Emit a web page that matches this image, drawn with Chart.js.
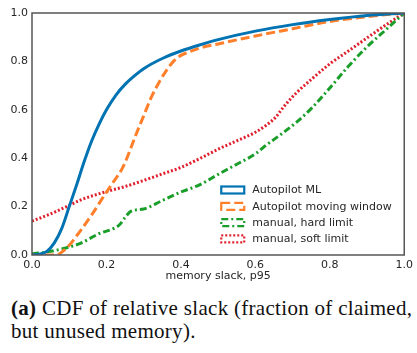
<!DOCTYPE html>
<html>
<head>
<meta charset="utf-8">
<script src="https://cdn.jsdelivr.net/npm/chart.js@4"></script>
<style>
  body { margin: 0; background: #fff; }
  #wrap { position: relative; width: 417px; height: 353px; }
  #slackChart { position: absolute; left: 0; top: 0; }
  .caption {
    position: absolute; left: 11px; top: 297px; width: 410px;
    font-family: 'Liberation Serif', serif; font-size: 21px; line-height: 22.5px;
    letter-spacing: 0.3px; color: #111; white-space: nowrap;
  }
</style>
</head>
<body>
<div id="wrap">
  <canvas id="slackChart" width="417" height="285"></canvas>
  <div class="caption"><b>(a)</b> CDF of relative slack (fraction of claimed,<br>but unused memory).</div>
</div>
<script>
// values (memory slack, p95 -> cumulative fraction)
const seriesNames = ['Autopilot ML', 'Autopilot moving window', 'manual, hard limit', 'manual, soft limit'];

const mlSlack = [0, 0.02, 0.04, 0.06, 0.08, 0.1, 0.12, 0.14, 0.16, 0.18, 0.2, 0.225, 0.25, 0.275, 0.3, 0.35, 0.4, 0.45, 0.5, 0.6, 0.7, 0.8, 0.9, 1.0];
const mlCdf   = [0, 0.003, 0.015, 0.05, 0.11, 0.2, 0.29, 0.385, 0.47, 0.54, 0.6, 0.66, 0.705, 0.74, 0.77, 0.812, 0.843, 0.868, 0.89, 0.925, 0.952, 0.973, 0.99, 1.0];

const windowSlack = [0, 0.065, 0.08, 0.1, 0.13, 0.16, 0.2, 0.22, 0.245, 0.265, 0.28, 0.3, 0.32, 0.34, 0.36, 0.38, 0.4, 0.42, 0.45, 0.5, 0.6, 0.7, 0.8, 0.9, 1.0];
const windowCdf   = [0, 0, 0.012, 0.04, 0.1, 0.165, 0.26, 0.305, 0.365, 0.44, 0.5, 0.575, 0.65, 0.71, 0.76, 0.8, 0.825, 0.838, 0.855, 0.872, 0.905, 0.935, 0.965, 0.985, 1.0];

const hardSlack = [0, 0.05, 0.1, 0.13, 0.18, 0.22, 0.235, 0.25, 0.265, 0.3, 0.35, 0.4, 0.45, 0.5, 0.55, 0.6, 0.63, 0.67, 0.71, 0.75, 0.8, 0.85, 0.9, 0.95, 1.0];
const hardCdf   = [0.005, 0.015, 0.033, 0.048, 0.088, 0.11, 0.125, 0.155, 0.18, 0.19, 0.225, 0.26, 0.29, 0.333, 0.375, 0.418, 0.455, 0.5, 0.548, 0.605, 0.69, 0.78, 0.86, 0.93, 1.0];

const softSlack = [0, 0.05, 0.1, 0.13, 0.2, 0.25, 0.3, 0.35, 0.4, 0.45, 0.5, 0.55, 0.6, 0.63, 0.655, 0.675, 0.69, 0.71, 0.75, 0.8, 0.85, 0.9, 0.95, 1.0];
const softCdf   = [0.14, 0.17, 0.205, 0.227, 0.262, 0.283, 0.308, 0.335, 0.362, 0.398, 0.437, 0.472, 0.507, 0.537, 0.57, 0.61, 0.637, 0.67, 0.725, 0.79, 0.843, 0.897, 0.95, 1.0];

const tickLabels = ['0.0', '0.2', '0.4', '0.6', '0.8', '1.0'];

const colors = ['#0173b2', '#ff7f2a', '#1a9e2a', '#e0202e'];
const dashes = [[], [9, 4], [7, 3, 2, 3], [2, 2]];

function pts(xs, ys) {
  return xs.map((x, i) => ({ x: x, y: ys[i] }));
}

const data = {
  datasets: [
    { label: seriesNames[0], data: pts(mlSlack, mlCdf) },
    { label: seriesNames[1], data: pts(windowSlack, windowCdf) },
    { label: seriesNames[2], data: pts(hardSlack, hardCdf) },
    { label: seriesNames[3], data: pts(softSlack, softCdf) }
  ].map((d, i) => Object.assign(d, {
    borderColor: colors[i],
    backgroundColor: colors[i],
    borderDash: dashes[i],
    borderWidth: 3,
    pointRadius: 0,
    fill: false,
    cubicInterpolationMode: 'monotone'
  }))
};

// axes frame + matplotlib-style legend inside the plot
const framePlugin = {
  id: 'frame',
  afterDatasetsDraw(chart) {
    const a = chart.chartArea;
    const ctx = chart.ctx;
    ctx.save();
    ctx.strokeStyle = '#555';
    ctx.lineWidth = 1.5;
    ctx.strokeRect(a.left, a.top, a.right - a.left, a.bottom - a.top);

    const boxX = a.right - 183, textX = a.right - 152;
    let rowY = a.bottom - 65;
    ctx.font = '11px "DejaVu Sans"';
    ctx.textBaseline = 'middle';
    chart.data.datasets.forEach(ds => {
      ctx.strokeStyle = ds.borderColor;
      ctx.lineWidth = 2.2;
      ctx.setLineDash(ds.borderDash);
      ctx.strokeRect(boxX, rowY - 3.5, 23, 7);
      ctx.setLineDash([]);
      ctx.fillStyle = '#262626';
      ctx.fillText(ds.label, textX, rowY + 0.5);
      rowY += 16.3;
    });
    ctx.restore();
  }
};

const config = {
  type: 'line',
  data,
  options: {
    responsive: false,
    animation: false,
    layout: { padding: { left: 0, right: 12, top: 13, bottom: 0 } },
    plugins: {
      legend: { display: false },
      tooltip: { enabled: false }
    },
    scales: {
      x: {
        type: 'linear',
        min: 0, max: 1,
        grid: { display: false, drawTicks: false },
        border: { display: false },
        ticks: {
          stepSize: 0.2,
          padding: 4,
          color: '#262626',
          font: { family: 'DejaVu Sans', size: 11 },
          maxRotation: 0,
          callback: (v, i) => tickLabels[i]
        },
        title: {
          display: true,
          text: 'memory slack, p95',
          color: '#262626',
          font: { family: 'DejaVu Sans', size: 11 },
          padding: { top: 0, bottom: 2 }
        },
        afterFit: s => { s.height = 30; }
      },
      y: {
        min: 0, max: 1,
        grid: { display: false, drawTicks: false },
        border: { display: false },
        ticks: {
          stepSize: 0.2,
          padding: 4,
          color: '#262626',
          font: { family: 'DejaVu Sans', size: 11 },
          callback: (v, i) => tickLabels[i]
        },
        afterFit: s => { s.width = 32; }
      }
    }
  },
  plugins: [framePlugin]
};

const slackChart = new Chart(document.getElementById('slackChart'), config);
</script>
</body>
</html>
